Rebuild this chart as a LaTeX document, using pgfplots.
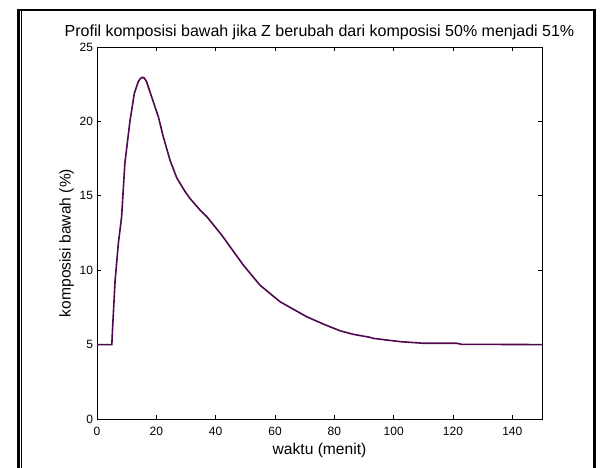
\documentclass[border=0pt]{standalone}
\usepackage{pgfplots}
\pgfplotsset{compat=1.18}
\usepackage{fontspec}
\setmainfont{Liberation Sans}
\definecolor{curve}{RGB}{78,8,78}

\begin{document}
\begin{tikzpicture}
  % page extent and the frame around the figure
  \path[use as bounding box] (0,0) rectangle (600bp,468bp);
  \draw[line width=2.5bp] (18.5bp,0bp) -- (18.5bp,458bp) -- (594.5bp,458bp) -- (594.5bp,0bp);
  \draw[line width=1bp] (21.5bp,0bp) -- (21.5bp,456.8bp);

  \begin{axis}[
    at={(97bp,49bp)}, anchor=south west,
    scale only axis, width=445bp, height=372bp,
    xmin=0, xmax=150, ymin=0, ymax=25,
    xtick={0,20,...,140}, ytick={0,5,...,25},
    tick align=inside, major tick length=4bp,
    tick style={black, line width=0.8bp},
    axis line style={black, line width=0.9bp},
    every tick label/.append style={font=\fontsize{12bp}{14bp}\selectfont},
    xticklabel style={yshift=-5bp},
    yticklabel style={xshift=-0.5bp},
    /pgf/number format/assume math mode=true,
    xlabel={waktu (menit)},
    ylabel={komposisi bawah (\%)},
    label style={font=\fontsize{15.6bp}{18bp}\selectfont},
    xlabel style={yshift=0bp},
    ylabel style={yshift=-1bp, xshift=-10bp},
    title={Profil komposisi bawah jika Z berubah dari komposisi 50\% menjadi 51\%},
    title style={font=\fontsize{16bp}{18bp}\selectfont, yshift=-2bp},
  ]
    \addplot[curve, line width=1.6bp] coordinates {
      (0,5) (5,5) (5.2,5.9) (6.1,9.3) (7.2,11.8) (8.3,13.6) (9.4,17.2)
      (11.1,20.0) (12.6,21.9) (13.9,22.67) (14.7,22.9) (15.4,22.96) (16.0,22.9)
      (16.7,22.67) (18.4,21.66) (20.7,20.3) (22.3,19.0) (24.6,17.4) (26.9,16.2)
      (29.7,15.28) (31.3,14.83) (34.7,14.05) (37,13.6) (42,12.37) (49.3,10.35)
      (54.9,9.0) (61.7,7.88) (70.7,6.87) (76.3,6.38) (81.9,5.93) (86.4,5.69)
      (92,5.49) (93.1,5.42) (102.1,5.2) (110,5.09) (121.2,5.09) (122.9,5.02)
      (150,5.0)
    };
  \end{axis}
\end{tikzpicture}
\end{document}
